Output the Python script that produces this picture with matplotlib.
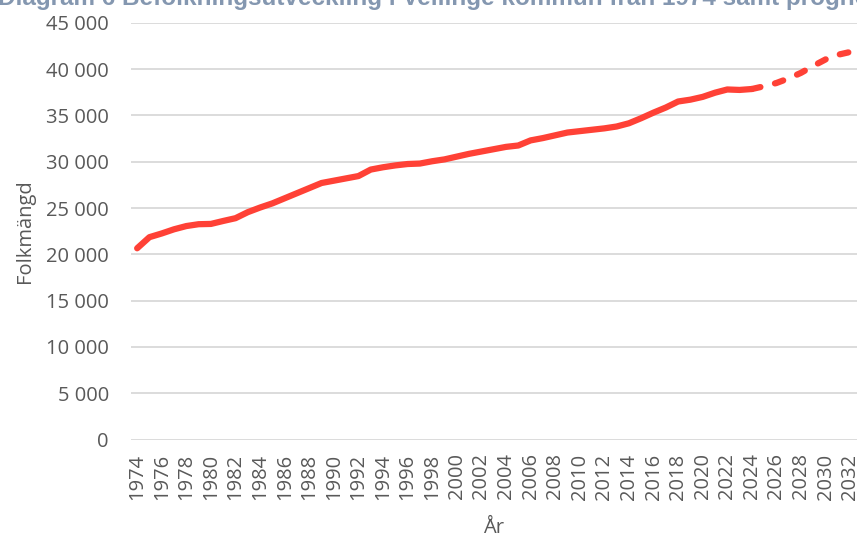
import matplotlib.pyplot as plt
from matplotlib.ticker import FuncFormatter

# Befolkning i Vellinge kommun, utfall och prognos
years_hist = list(range(1974, 2025))
pop_hist = [20650, 21850, 22250, 22700, 23050, 23250, 23280, 23600, 23900, 24550,
            25050, 25500, 26050, 26600, 27150, 27700, 27950, 28200, 28450, 29150,
            29400, 29600, 29750, 29800, 30050, 30250, 30550, 30850, 31100, 31350,
            31600, 31750, 32300, 32550, 32850, 33150, 33300, 33450, 33600, 33800,
            34150, 34700, 35300, 35850, 36500, 36700, 37000, 37450, 37800, 37750,
            37850]
years_prog = list(range(2024, 2034))
pop_prog = [37850, 38150, 38500, 39000, 39600, 40350, 41050, 41550, 41850, 42150]
tick_years = list(range(1974, 2033, 2))

title = "Diagram 6 Befolkningsutveckling i Vellinge kommun från 1974 samt prognos"

plt.rcParams['font.family'] = ['Open Sans', 'DejaVu Sans']
grey = "#595959"
red = "#FF4136"

fig = plt.figure(figsize=(8.57, 5.38), dpi=100)
ax = fig.add_axes([131 / 857, 1 - 439.5 / 538, 1 - 131 / 857, (439.5 - 22.8) / 538])

ax.plot(years_hist, pop_hist, color=red, lw=4.5, solid_capstyle="round",
        solid_joinstyle="round")
ax.plot(years_prog, pop_prog, color=red, lw=4.5, linestyle=(0, (1.4, 2.4)),
        dash_capstyle="round")

ax.set_xlim(1973.5, 2032.55)
ax.set_ylim(0, 45000)
ax.set_yticks(range(0, 45001, 5000))
ax.yaxis.set_major_formatter(FuncFormatter(lambda v, p: f"{int(v):,}".replace(",", " ")))
ax.set_xticks(tick_years)
ax.set_xticklabels([str(y) for y in tick_years], rotation=90)

ax.grid(axis="y", color="#D9D9D9", lw=1.3)
ax.set_axisbelow(True)
for s in ax.spines.values():
    s.set_visible(False)
ax.tick_params(length=0, colors=grey, labelsize=14.5)
ax.tick_params(axis="y", pad=16)
ax.tick_params(axis="x", pad=10)

ax.set_ylabel("Folkmängd", color=grey, fontsize=14.5, labelpad=8)
ax.set_xlabel("År", color=grey, fontsize=14.5, labelpad=13)

fig.text(-0.002, 1 - 5.5 / 538, title, ha="left", va="baseline", fontsize=17.5,
         fontweight="bold", color="#8497B0", family=["Liberation Sans", "DejaVu Sans"])

fig.savefig("out.png", dpi=100)
